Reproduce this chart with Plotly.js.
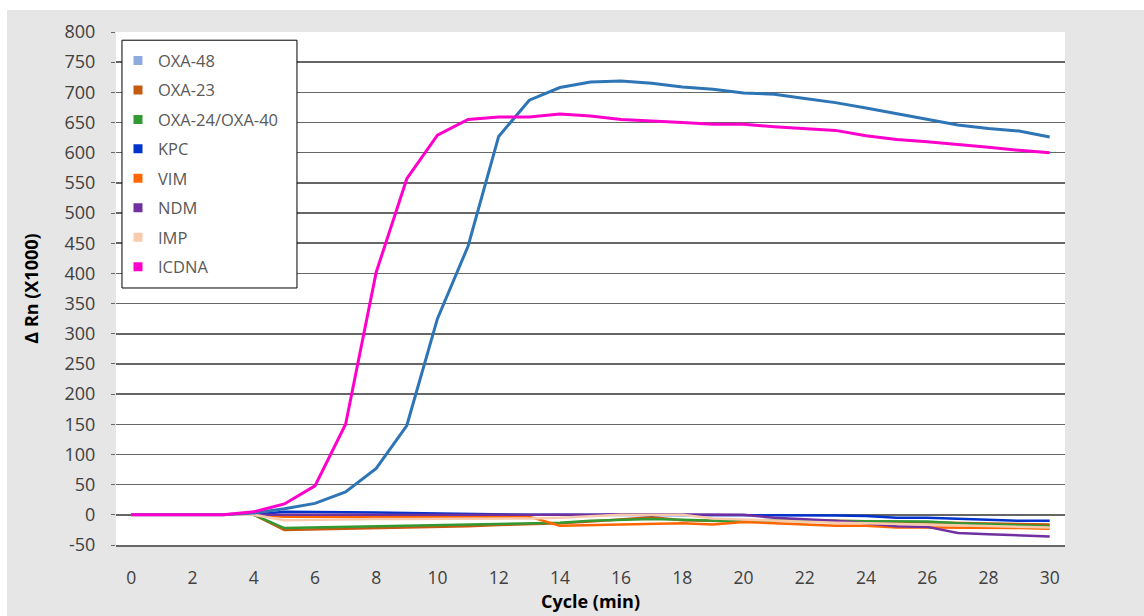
<!DOCTYPE html>
<html>
<head>
<meta charset="utf-8">
<script src="https://cdn.plot.ly/plotly-3.0.1.min.js"></script>
<style>
  html, body { margin: 0; padding: 0; background: #ffffff; width: 1144px; height: 616px; overflow: hidden; }
  #chart { position: absolute; left: 7px; top: 10px; width: 1137px; height: 606px; }
</style>
</head>
<body>
<div id="chart"></div>
<script>
// Cycle (min)
const cycles = [0,1,2,3,4,5,6,7,8,9,10,11,12,13,14,15,16,17,18,19,20,21,22,23,24,25,26,27,28,29,30];
const xTicks = [0,2,4,6,8,10,12,14,16,18,20,22,24,26,28,30];
const yTicks = [-50,0,50,100,150,200,250,300,350,400,450,500,550,600,650,700,750,800];
const yTickLabels = ["-50","0","50","100","150","200","250","300","350","400","450","500","550","600","650","700","750","800"];

const seriesNames = ["OXA-48","OXA-23","OXA-24/OXA-40","KPC","VIM","NDM","IMP","ICDNA"];

const oxa48 = [0,0,0,0,3,10,19,38,77,148,325,445,627,687,708,717,719,715,709,705,699,697,690,683,674,665,655,646,640,636,626];
const oxa23 = [0,0,0,0,0,-25,-24,-24,-23,-22,-21,-19,-17,-16,-14,-11,-8,-4,-9,-10,-11,-10,-9,-10,-11,-12,-12,-13,-14,-15,-16];
const oxa24 = [0,0,0,0,0,-22,-21,-21,-20,-19,-18,-17,-16,-15,-13,-10,-8,-7,-8,-10,-11,-10,-10,-10,-10,-11,-11,-14,-16,-18,-19];
const kpc   = [0,0,0,0,0,5,5,4,4,3,2,1,0,0,0,0,0,0,0,0,-1,-1,-1,-1,-2,-5,-5,-7,-9,-10,-10];
const vim   = [0,0,0,0,0,-3,-3,-3,-3,-3,-3,-3,-3,-3,-18,-17,-16,-16,-14,-16,-12,-14,-16,-18,-18,-21,-21,-21,-22,-22,-23];
const ndm   = [0,0,0,0,0,-1,-1,-1,-1,-1,-1,-1,-1,-1,0,0,1,1,1,1,0,-5,-7,-10,-14,-19,-20,-30,-32,-34,-36];
const imp   = [0,0,0,0,0,-9,-8,-8,-7,-7,-7,-7,-6,-6,-5,-3,0,0,0,-6,-8,-9,-11,-13,-14,-15,-16,-17,-18,-19,-21];
const icdna = [0,0,0,0,5,18,48,150,402,557,629,655,659,659,664,661,655,653,650,647,647,643,640,637,628,622,618,614,609,604,600];

const seriesValues = [oxa48, oxa23, oxa24, kpc, vim, ndm, imp, icdna];
const lineColors   = ["#2E75B6","#C55A11","#339933","#0033CC","#FF6600","#7030A0","#F8CBAD","#FF00CC"];
const swatchColors = ["#8FAADC","#C55A11","#339933","#0033CC","#FF6600","#7030A0","#F8CBAD","#FF00CC"];
const lineWidths   = [3,2.5,2.5,2.5,2.5,2.5,2.5,3];

const traces = [];
const drawOrder = [1,2,3,4,5,6,0,7];
drawOrder.forEach(i => {
  traces.push({
    x: cycles, y: seriesValues[i], type: "scatter", mode: "lines",
    name: seriesNames[i], showlegend: false,
    line: { color: lineColors[i], width: lineWidths[i] },
    hoverinfo: "x+y+name"
  });
});
seriesNames.forEach((n, i) => {
  traces.push({
    x: [null], y: [null], type: "scatter", mode: "markers",
    name: n, legendgroup: "g" + i, showlegend: true,
    marker: { symbol: "square", size: 9, color: swatchColors[i] },
    hoverinfo: "skip"
  });
});

const layout = {
  paper_bgcolor: "#E6E6E6",
  plot_bgcolor: "#FFFFFF",
  margin: { l: 109, r: 79, t: 22, b: 71, pad: 0 },
  showlegend: true,
  font: { family: "Open Sans, sans-serif", color: "#404040" },
  xaxis: {
    range: [-0.5, 30.5],
    tickvals: xTicks,
    ticktext: xTicks.map(String),
    showgrid: false, zeroline: false,
    showline: true, linecolor: "#666666", linewidth: 1.5,
    ticks: "", ticklabelstandoff: 16,
    tickfont: { size: 17.5, color: "#404040" },
    title: { text: "Cycle (min)", font: { size: 18, color: "#000000", family: "Open Sans, sans-serif", weight: "bold" }, standoff: 8 },
    fixedrange: true
  },
  yaxis: {
    range: [-50, 800],
    tickvals: yTicks, ticktext: yTickLabels,
    showgrid: true, gridcolor: "#666666", gridwidth: 1.5,
    zeroline: false, showline: false,
    ticks: "outside", ticklen: 4, tickcolor: "#666666", tickwidth: 1,
    ticklabelstandoff: 12,
    tickfont: { size: 18, color: "#404040" },
    title: { text: "Δ Rn (X1000)", font: { size: 18, color: "#000000", family: "Open Sans, sans-serif", weight: "bold" }, standoff: 21 },
    fixedrange: true
  },
  legend: {
    x: 0.0021, y: 0.978, xanchor: "left", yanchor: "top",
    bgcolor: "rgba(0,0,0,0)", borderwidth: 0,
    font: { size: 16.5, color: "#595959", family: "Open Sans, sans-serif" },
    traceorder: "grouped", tracegroupgap: 5, itemwidth: 30,
    itemclick: false, itemdoubleclick: false
  },
  shapes: [{
    type: "rect", xref: "paper", yref: "paper",
    x0: 0.0063, x1: 0.1907, y0: 0.501, y1: 0.984,
    fillcolor: "#FFFFFF", line: { color: "#000000", width: 1 }, layer: "above"
  }]
};

Plotly.newPlot("chart", traces, layout, { displayModeBar: false, staticPlot: true });
</script>
</body>
</html>
